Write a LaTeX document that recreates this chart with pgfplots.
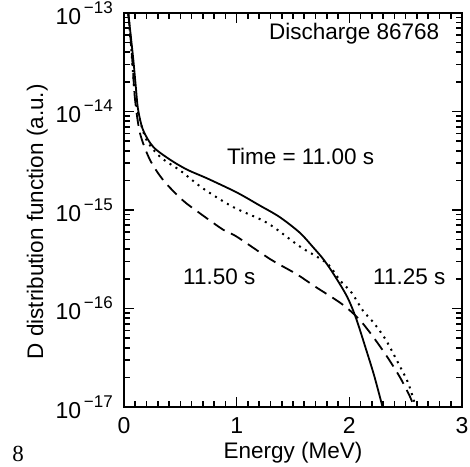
\documentclass[border=0pt]{standalone}
\usepackage{pgfplots}
\pgfplotsset{compat=1.18}
\usepackage{fontspec}
\setmainfont{Liberation Sans}
\newfontfamily\serifnum{Liberation Serif}
\newcommand{\ytl}[1]{10\raisebox{11pt}{\fontsize{17}{17}\selectfont \,−#1}}
\begin{document}
\begin{tikzpicture}
\useasboundingbox (-124pt,-59pt) rectangle (346pt,407pt);
\begin{axis}[
  at={(0,0)}, anchor=south west,
  scale only axis, width=338pt, height=394pt,
  xmin=0, xmax=3, ymin=1e-17, ymax=1e-13,
  ymode=log,
  xtick={0,1,2,3},
  minor x tick num=9,
  ytick={1e-17,1e-16,1e-15,1e-14,1e-13},
  minor ytick={2e-17,3e-17,4e-17,5e-17,6e-17,7e-17,8e-17,9e-17,
               2e-16,3e-16,4e-16,5e-16,6e-16,7e-16,8e-16,9e-16,
               2e-15,3e-15,4e-15,5e-15,6e-15,7e-15,8e-15,9e-15,
               2e-14,3e-14,4e-14,5e-14,6e-14,7e-14,8e-14,9e-14},
  yticklabels={\ytl{17},\ytl{16},\ytl{15},\ytl{14},\ytl{13}},
  tick align=inside,
  tick pos=both,
  major tick length=10pt, minor tick length=6pt,
  axis line style={line width=1.2pt},
  every major tick/.append style={line width=1.6pt, black},
  every minor tick/.append style={line width=1.6pt, black},
  /pgf/number format/assume math mode=true,
  tick label style={font=\fontsize{23}{23}\selectfont},
  yticklabel style={anchor=east, inner sep=0pt, xshift=-11pt},
  xticklabel style={anchor=north, inner sep=0pt, yshift=-10pt},
  xlabel={Energy (MeV)},
  ylabel={D distribution function (a.u.)},
  label style={font=\fontsize{22.5}{22.5}\selectfont},
  xlabel style={at={(axis description cs:0.5,-0.1294)}, anchor=base},
  ylabel style={at={(axis description cs:-0.2396,0.47)}, anchor=base, rotate=0},
  clip mode=individual,
]
% 11.00 s (solid)
\addplot[black, line width=1.8pt, smooth, tension=0.5] coordinates {
(0.02,1.58e-13) (0.038,1.0e-13) (0.062,5.62e-14) (0.085,3.16e-14) (0.105,1.78e-14)
(0.125,1.05e-14) (0.17,6.46e-15) (0.26,4.37e-15) (0.41,3.24e-15) (0.56,2.57e-15)
(0.74,2.09e-15) (1.0,1.51e-15) (1.2,1.12e-15) (1.38,8.51e-16) (1.56,5.89e-16)
(1.68,4.17e-16) (1.77,3.16e-16) (1.86,2.24e-16) (1.98,1.32e-16) (2.06,7.94e-17)
(2.15,3.80e-17) (2.22,2.09e-17) (2.29,1.05e-17) (2.32,7.59e-18)
};
% 11.25 s (dotted)
\addplot[black, line width=2pt, smooth, tension=0.5, dash pattern=on 2pt off 5pt] coordinates {
(0.02,1.58e-13) (0.045,7.94e-14) (0.07,3.55e-14) (0.098,1.41e-14) (0.142,8.13e-15)
(0.20,5.13e-15) (0.32,3.47e-15) (0.50,2.51e-15) (0.70,1.66e-15) (0.97,1.07e-15)
(1.27,7.41e-16) (1.56,4.27e-16) (1.80,2.88e-16) (1.92,1.91e-16) (2.02,1.45e-16)
(2.12,9.55e-17) (2.22,7.08e-17) (2.33,4.68e-17) (2.45,2.57e-17) (2.52,1.78e-17)
(2.58,1.10e-17) (2.62,7.94e-18)
};
% 11.50 s (dashed)
\addplot[black, line width=1.8pt, smooth, tension=0.5, dash pattern=on 13pt off 7pt] coordinates {
(0.02,1.58e-13) (0.05,7.08e-14) (0.075,3.16e-14) (0.098,1.32e-14) (0.142,6.03e-15)
(0.23,3.24e-15) (0.35,2.00e-15) (0.52,1.26e-15) (0.67,9.33e-16) (0.88,6.31e-16)
(1.0,5.37e-16) (1.30,3.16e-16) (1.53,2.24e-16) (1.70,1.66e-16) (1.93,1.12e-16)
(2.08,7.94e-17) (2.20,5.37e-17) (2.33,3.31e-17) (2.45,2.00e-17) (2.54,1.26e-17)
(2.59,8.91e-18)
};
\node[anchor=base east, font=\fontsize{22.5}{22.5}\selectfont] at (axis cs:2.83,5.4e-14) {Discharge 86768};
\node[anchor=base west, font=\fontsize{22.5}{22.5}\selectfont, inner sep=0pt] at (axis cs:0.914,2.88e-15) {Time = 11.00 s};
\node[anchor=base west, font=\fontsize{22.5}{22.5}\selectfont, inner sep=0pt] at (axis cs:0.524,1.74e-16) {11.50 s};
\node[anchor=base west, font=\fontsize{22.5}{22.5}\selectfont, inner sep=0pt] at (axis cs:2.21,1.74e-16) {11.25 s};
\node[anchor=base west, inner sep=0pt] at (axis description cs:-0.331,-0.137) {\serifnum\fontsize{23}{23}\selectfont 8};
\end{axis}
\end{tikzpicture}
\end{document}
